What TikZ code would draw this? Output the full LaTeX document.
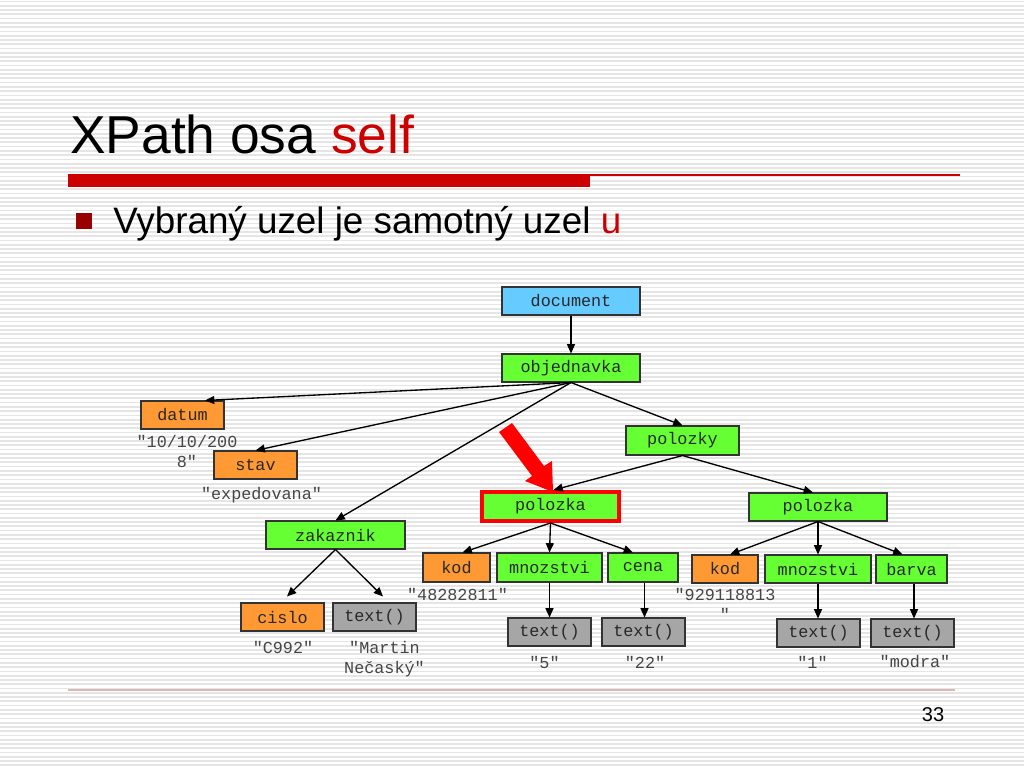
\documentclass[tikz,border=0pt]{standalone}
\usepackage{fontspec}
\setmainfont{Liberation Sans}
\newfontfamily\monof{Liberation Mono}
\usetikzlibrary{arrows.meta,calc}
\definecolor{stripe}{RGB}{229,229,229}
\definecolor{nblue}{RGB}{102,204,255}
\definecolor{ngreen}{RGB}{102,255,51}
\definecolor{norange}{RGB}{255,153,51}
\definecolor{ngray}{RGB}{166,166,166}
\definecolor{barred}{RGB}{204,0,0}
\definecolor{bulred}{RGB}{153,0,0}
\definecolor{footline}{RGB}{215,185,180}
\definecolor{txtdark}{RGB}{40,40,40}
\definecolor{lbl}{RGB}{70,70,70}
\tikzset{
  box/.style={draw=black!80, line width=0.8pt, inner sep=0pt, minimum height=21pt,
    font=\monof\fontsize{12.6}{15}\selectfont, text=txtdark},
  bluebox/.style={box, fill=nblue},
  greenbox/.style={box, fill=ngreen},
  orangebox/.style={box, fill=norange},
  graybox/.style={box, fill=ngray},
  lab/.style={inner sep=0pt, align=center, font=\monof\fontsize{12.6}{15}\selectfont, text=lbl},
  edge/.style={draw=black, line width=1pt, -{Triangle[length=7pt,width=6pt]}},
}
\begin{document}
\begin{tikzpicture}[x=0.75pt,y=-0.75pt]
\useasboundingbox (0,0) rectangle (1024,768);
\fill[white] (0,0) rectangle (1024,768);
\foreach \i in {0,...,180}{
  \draw[stripe, line width=1.3pt] (0,{\i*4.267+1.5}) -- (1024,{\i*4.267+1.5});
}
% header
\node[anchor=base west, inner sep=0pt, font=\fontsize{40}{48}\selectfont] (title) at (70,153) {XPath osa \textcolor{barred}{self}};
\fill[barred] (68,174) rectangle (590,187);
\draw[barred, line width=0.8pt] (590,175) -- (960,175);
\fill[bulred] (76,213) rectangle (92,229);
\node[anchor=base west, inner sep=0pt, font=\fontsize{27.6}{34}\selectfont] (sub) at (113,233) {Vybraný uzel je samotný uzel \textcolor{barred}{u}};
\draw[footline, line width=0.8pt] (68,690) -- (955,690);
\node[inner sep=0pt, font=\fontsize{15}{18}\selectfont] (pg) at (933,715) {33};

% nodes
\node[bluebox, minimum width=103.5pt] (doc) at (571,301) {document};
\node[greenbox, minimum width=103.5pt] (obj) at (571,368) {objednavka};
\node[orangebox, minimum width=62.25pt] (datum) at (182.5,415) {datum};
\node[orangebox, minimum width=62.25pt] (stav) at (255.5,465) {stav};
\node[greenbox, minimum width=104.25pt] (zak) at (335.5,535) {zakaznik};
\node[greenbox, minimum width=84.75pt, minimum height=21.75pt] (polozky) at (682.5,440.5) {polozky};
\node[greenbox, draw=red, line width=3pt, minimum width=102.75pt, minimum height=21.75pt] (pol1) at (550.5,506.5) {polozka};
\node[greenbox, minimum width=103.5pt] (pol2) at (818,507) {polozka};
\node[orangebox, minimum width=50.25pt, minimum height=21.75pt] (kod1) at (456.5,567.5) {kod};
\node[greenbox, minimum width=78.75pt, minimum height=21.75pt] (mn1) at (549.5,567.5) {mnozstvi};
\node[greenbox, minimum width=52.5pt, minimum height=21.75pt] (cena) at (643,567.5) {cena};
\node[orangebox, minimum width=49.5pt] (kod2) at (725,569) {kod};
\node[greenbox, minimum width=79.5pt] (mn2) at (818,569) {mnozstvi};
\node[greenbox, minimum width=53.25pt] (barva) at (911.5,569) {barva};
\node[orangebox, minimum width=62.25pt] (cislo) at (282.5,617) {cislo};
\node[graybox, minimum width=62.25pt] (t0) at (374.5,617) {text()};
\node[graybox, minimum width=62.25pt] (t1) at (549.5,632) {text()};
\node[graybox, minimum width=62.25pt] (t2) at (643.5,632) {text()};
\node[graybox, minimum width=62.25pt] (t3) at (818.5,633) {text()};
\node[graybox, minimum width=62.25pt] (t4) at (912.5,633) {text()};

% labels
\node[lab] (ldatum) at (187,451) {"10/10/200\\8"};
\node[lab] (lstav) at (261.5,495) {"expedovana"};
\node[lab] (lkod1) at (457.5,594) {"48282811"};
\node[lab] (lkod2) at (725,604) {"929118813\\"};
\node[lab] (lcislo) at (283,647) {"C992"};
\node[lab] (lt0) at (384.5,659.5) {"Martin\\Nečaský"};
\node[lab] (lt1) at (544.5,662) {"5"};
\node[lab] (lt2) at (645,662) {"22"};
\node[lab] (lt3) at (812.5,662) {"1"};
\node[lab] (lt4) at (915,662) {"modra"};

% edge helper coordinates
\coordinate (cenaS) at ($(cena.south)+(1.5,0)$);
\coordinate (barvaS) at ($(barva.south)+(2.5,0)$);

% edges
\draw[edge] (doc.south) -- (obj.north);
\draw[edge] (obj.south) -- ($(datum.north)+(22.5,0)$);
\draw[edge] (obj.south) -- (stav.north);
\draw[edge] (obj.south) -- (zak.north);
\draw[edge] (obj.south) -- (polozky.north);
\draw[edge] (polozky.south) -- ($(pol1.north)+(3,0)$);
\draw[edge] (polozky.south) -- ($(pol2.north)+(-5,0)$);
\draw[edge] (pol1.south) -- ($(kod1.north)+(6,0)$);
\draw[edge] (pol1.south) -- (mn1.north);
\draw[edge] (pol1.south) -- ($(cena.north)+(-10,0)$);
\draw[edge] (pol2.south) -- ($(kod2.north)+(5,0)$);
\draw[edge] (pol2.south) -- (mn2.north);
\draw[edge] (pol2.south) -- ($(barva.north)+(-9,0)$);
\draw[edge] (mn1.south) -- (mn1.south |- t1.north);
\draw[edge] (cenaS) -- (cenaS |- t2.north);
\draw[edge] (mn2.south) -- (mn2.south |- t3.north);
\draw[edge] (barvaS) -- (barvaS |- t4.north);
\draw[edge] (zak.south) -- ($(cislo.north)+(4.5,-6)$);
\draw[edge] (zak.south) -- ($(t0.north)+(8.5,-6)$);

% big red arrow
\fill[red] (512,423) -- (544,466) -- (552,461) -- (553,492) -- (525,481) -- (532,476) -- (499,432) -- cycle;
\end{tikzpicture}
\end{document}
